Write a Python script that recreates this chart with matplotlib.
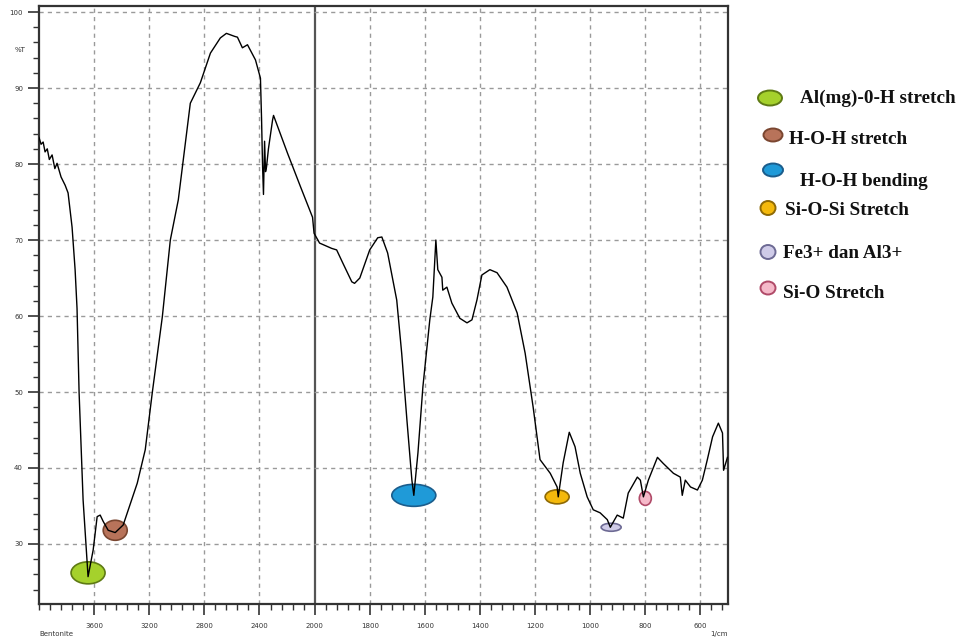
import matplotlib
matplotlib.use("Agg")
import matplotlib.pyplot as plt
import numpy as np
from matplotlib.patches import Ellipse
from matplotlib.transforms import ScaledTranslation

# FTIR spectrum of bentonite (wavenumber in 1/cm, transmittance in %T)
wavenumber = [4000, 3985, 3970, 3956, 3940, 3925, 3905, 3885, 3869, 3840,
              3810, 3789, 3760, 3738, 3724, 3709, 3680, 3644,
              3607, 3578, 3556, 3535, 3498, 3447, 3389, 3287, 3229, 3178,
              3105, 3047, 2989, 2902, 2829, 2756, 2684, 2640, 2611, 2580,
              2560, 2524, 2487, 2429, 2393, 2385, 2378, 2371, 2363, 2356,
              2349, 2335, 2305, 2298, 2196, 2102, 2015, 2004,
              1982, 1938, 1920, 1898, 1865, 1855, 1836, 1800, 1771, 1756,
              1735, 1716, 1702, 1684, 1665, 1647, 1640, 1625, 1607, 1582,
              1571, 1560, 1553, 1538, 1535, 1520, 1502, 1473, 1447, 1429,
              1411, 1393, 1364, 1338, 1302, 1265, 1236, 1207, 1182, 1145,
              1120, 1116, 1098, 1076, 1055, 1036, 1011, 989, 964, 938,
              927, 902, 880, 862, 829, 818, 807, 789, 756, 735,
              698, 673, 666, 655, 636, 611, 593, 575, 556, 535,
              520, 516, 502]
transmittance = [83.5, 82.6, 82.9, 81.6, 82.0, 80.6, 81.2, 79.4, 80.1, 78.3,
                 77.2, 76.2, 71.7, 66.1, 61.0, 49.9, 35.8, 25.7,
                 29.2, 33.6, 33.8, 33.0, 31.8, 31.5, 32.5, 38.0, 42.4, 49.9,
                 59.9, 70.0, 75.3, 88.0, 90.7, 94.6, 96.6, 97.2, 97.0, 96.8,
                 96.7, 95.3, 95.7, 93.7, 91.3, 86.0, 80.0, 76.0, 83.0, 79.0,
                 79.6, 82.0, 85.8, 86.4, 81.4, 77.0, 73.0, 70.9,
                 69.6, 68.9, 68.7, 67.0, 64.5, 64.3, 65.0, 68.7, 70.3, 70.4,
                 68.3, 64.7, 62.1, 55.1, 46.3, 38.4, 36.4, 42.0, 50.7, 59.5,
                 62.5, 70.0, 66.1, 65.1, 63.4, 63.8, 61.7, 59.7, 59.1, 59.5,
                 62.1, 65.4, 66.1, 65.7, 63.8, 60.4, 55.1, 48.0, 41.1, 39.3,
                 37.5, 36.2, 40.7, 44.7, 42.8, 39.3, 36.2, 34.5, 34.1, 33.2,
                 32.2, 33.8, 33.4, 36.7, 38.8, 38.4, 36.2, 38.4, 41.4, 40.6,
                 39.3, 38.8, 36.4, 38.4, 37.5, 37.1, 38.4, 41.1, 44.1, 45.9,
                 44.6, 39.7, 41.4]

# marked absorption bands
band_names = ["Al(mg)-0-H stretch", "H-O-H stretch", "H-O-H bending",
              "Si-O-Si Stretch", "Fe3+ dan Al3+", "Si-O Stretch"]
band_wn = [3644, 3447, 1640, 1120, 924, 800]
band_t = [26.2, 31.8, 36.4, 36.2, 32.2, 36.0]
band_face = ["#a5d12c", "#b8735a", "#1f9ad8", "#f4b90c", "#cfcbe8", "#f5b9c9"]
band_edge = ["#5e7a14", "#7a4630", "#1b5d8c", "#8f6a05", "#6d6a94", "#b04a68"]

major_ticks = [3600, 3200, 2800, 2400, 2000, 1800, 1600, 1400, 1200, 1000, 800, 600]


# above 2000 the axis is compressed by a factor of 2
def fwd(x):
    x = np.asarray(x, dtype=float)
    return np.where(x > 2000, 2000 + (x - 2000) / 2, x)


def inv(u):
    u = np.asarray(u, dtype=float)
    return np.where(u > 2000, 2000 + (u - 2000) * 2, u)


fig = plt.figure(figsize=(9.6, 6.41), dpi=100)
ax = fig.add_axes([39 / 960, 37 / 641, 689 / 960, 598 / 641])
ax.set_xscale("function", functions=(fwd, inv))
ax.set_xlim(4000, 500)
ax.set_ylim(22.1, 100.8)

# grid
for t in major_ticks:
    if t == 2000:
        ax.axvline(t, color="#555555", lw=1.6, zorder=1)
    else:
        ax.axvline(t, color="#9a9a9a", lw=1.0, ls=(0, (3, 3)), zorder=1)
for v in range(30, 101, 10):
    ax.axhline(v, color="#9a9a9a", lw=1.0, ls=(0, (3, 3)), zorder=1)

# band markers (sizes in pixels)
band_w = [34, 24, 44, 24, 20, 12]
band_h = [22, 20, 22, 14, 8, 14]
for wn, t, w, h, fc, ec in zip(band_wn, band_t, band_w, band_h, band_face, band_edge):
    e = Ellipse((0, 0), w / 100, h / 100, facecolor=fc, edgecolor=ec, lw=1.2,
                transform=fig.dpi_scale_trans + ScaledTranslation(wn, t, ax.transData),
                zorder=2)
    ax.add_artist(e)

ax.plot(wavenumber, transmittance, color="black", lw=1.0, zorder=3)

ax.set_xticks(major_ticks)
ax.set_xticklabels([str(t) for t in major_ticks])
ax.set_xticks(list(np.arange(4000, 2000, -80)) + list(np.arange(2000, 499, -40)), minor=True)
ax.set_yticks(range(30, 101, 10))
ax.set_yticks(range(24, 101, 2), minor=True)
ax.tick_params(axis="both", which="major", length=8, width=1.2, color="#333333",
               labelsize=5, labelcolor="#333333")
ax.tick_params(axis="both", which="minor", length=4, width=1.0, color="#333333")
ax.tick_params(axis="x", pad=6)
for s in ax.spines.values():
    s.set_color("#333333")
    s.set_linewidth(1.6)

fig.text(15 / 960, 1 - 50 / 641, "%T", fontsize=5, color="#333333", va="center")
fig.text(39 / 960, 1 - 634 / 641, "Bentonite", fontsize=5, color="#333333", va="center")
fig.text(710 / 960, 1 - 634 / 641, "1/cm", fontsize=5, color="#333333", va="center")

# legend of band markers
leg_x = [770, 773, 773, 768, 768, 768]
leg_y = [98, 135, 170, 208, 252, 288]
leg_w = [24, 19, 20, 15, 15, 15]
leg_h = [15, 13, 13, 14, 14, 13]
txt_x = [800, 789, 800, 785, 783, 783]
txt_y = [98, 140, 182, 210, 253, 293]
for i in range(len(band_names)):
    fig.add_artist(Ellipse((leg_x[i] / 960, 1 - leg_y[i] / 641), leg_w[i] / 960, leg_h[i] / 641,
                           facecolor=band_face[i], edgecolor=band_edge[i], lw=1.4,
                           transform=fig.transFigure))
    fig.text(txt_x[i] / 960, 1 - txt_y[i] / 641, band_names[i], fontsize=13.8,
             family="Liberation Serif", weight="bold", va="center", color="#111111")

fig.savefig("out.png", dpi=100)
